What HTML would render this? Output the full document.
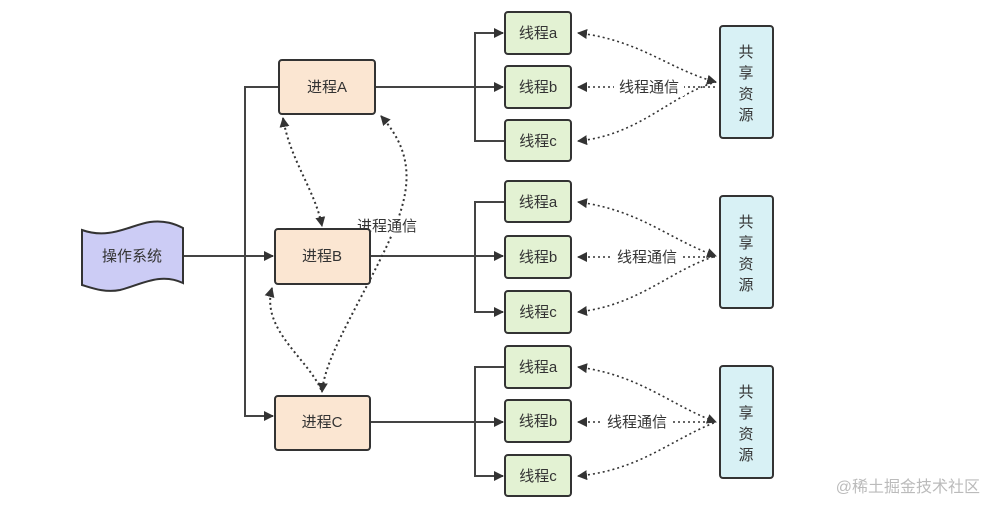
<!DOCTYPE html>
<html><head><meta charset="utf-8"><style>
body{margin:0;background:#fff}
svg text{font-family:"Liberation Sans","Noto Sans CJK SC",sans-serif;font-size:15px;fill:#333}
</style></head><body>
<svg width="986" height="502" viewBox="0 0 986 502" xmlns="http://www.w3.org/2000/svg">
<defs>
<marker id="ar" markerWidth="10" markerHeight="10" refX="9" refY="5" orient="auto" markerUnits="userSpaceOnUse">
<path d="M0,0 L10,5 L0,10 z" fill="#333"/></marker>
<marker id="as" markerWidth="10" markerHeight="10" refX="1" refY="5" orient="auto" markerUnits="userSpaceOnUse">
<path d="M10,0 L0,5 L10,10 z" fill="#333"/></marker>
</defs>
<g stroke="#444" stroke-width="2" fill="none">
<path d="M183 256 H273" marker-end="url(#ar)"/>
<path d="M279 87 H245 V416 H273" marker-end="url(#ar)"/>
<path d="M375 87 H503" marker-end="url(#ar)"/>
<path d="M505 141 H475 V33 H503" marker-end="url(#ar)"/>
<path d="M370 256 H503" marker-end="url(#ar)"/>
<path d="M505 202 H475 V312 H503" marker-end="url(#ar)"/>
<path d="M370 422 H503" marker-end="url(#ar)"/>
<path d="M505 367 H475 V476 H503" marker-end="url(#ar)"/>
</g>
<g stroke="#333" stroke-width="2" fill="none" stroke-dasharray="2,3">
<path d="M283 118 C290 160 315 190 322 226" marker-start="url(#as)" marker-end="url(#ar)"/>
<path d="M381 116 C420 160 410 200 380 260 C350 320 325 360 322 392" marker-start="url(#as)" marker-end="url(#ar)"/>
<path d="M272 288 C260 330 310 360 322 392" marker-start="url(#as)"/>
</g>
<g stroke="#333" stroke-width="1.6" fill="none" stroke-dasharray="2,3">
<path d="M578 33 C640 40 670 70 716 82" marker-start="url(#as)" marker-end="url(#ar)"/>
<path d="M578 87 H716" marker-start="url(#as)"/>
<path d="M578 141 C640 135 670 95 716 82" marker-start="url(#as)"/>
<path d="M578 202 C640 210 670 240 716 256" marker-start="url(#as)" marker-end="url(#ar)"/>
<path d="M578 257 H716" marker-start="url(#as)"/>
<path d="M578 312 C640 305 670 270 716 256" marker-start="url(#as)"/>
<path d="M578 367 C640 375 670 405 716 422" marker-start="url(#as)" marker-end="url(#ar)"/>
<path d="M578 422 H716" marker-start="url(#as)"/>
<path d="M578 476 C640 470 670 440 716 422" marker-start="url(#as)"/>
</g>
<rect x="614" y="78" width="70" height="18" fill="#fff"/>
<text x="649" y="92" text-anchor="middle">线程通信</text>
<rect x="612" y="248" width="70" height="18" fill="#fff"/>
<text x="647" y="262" text-anchor="middle">线程通信</text>
<rect x="602" y="413" width="70" height="18" fill="#fff"/>
<text x="637" y="427" text-anchor="middle">线程通信</text>
<rect x="354" y="217" width="66" height="18" fill="#fff"/>
<text x="387" y="231" text-anchor="middle">进程通信</text>
<path d="M82 230 C110 240 130 225 150 222 C165 220 175 224 183 228 V283 C160 272 140 285 120 290 C105 293 92 288 82 285 Z" fill="#ccccf5" stroke="#333" stroke-width="2"/>
<text x="132" y="261" text-anchor="middle">操作系统</text>
<g fill="#fbe6d2" stroke="#333" stroke-width="2">
<rect x="279" y="60" width="96" height="54" rx="3"/>
<rect x="275" y="229" width="95" height="55" rx="3"/>
<rect x="275" y="396" width="95" height="54" rx="3"/>
</g>
<text x="327" y="92" text-anchor="middle">进程A</text>
<text x="322" y="261" text-anchor="middle">进程B</text>
<text x="322" y="427" text-anchor="middle">进程C</text>
<g fill="#e3f2d3" stroke="#333" stroke-width="2">
<rect x="505" y="12" width="66" height="42" rx="3"/>
<rect x="505" y="66" width="66" height="42" rx="3"/>
<rect x="505" y="120" width="66" height="41" rx="3"/>
<rect x="505" y="181" width="66" height="41" rx="3"/>
<rect x="505" y="236" width="66" height="42" rx="3"/>
<rect x="505" y="291" width="66" height="42" rx="3"/>
<rect x="505" y="346" width="66" height="42" rx="3"/>
<rect x="505" y="400" width="66" height="42" rx="3"/>
<rect x="505" y="455" width="66" height="41" rx="3"/>
</g>
<g text-anchor="middle">
<text x="538" y="38">线程a</text><text x="538" y="92">线程b</text><text x="538" y="146">线程c</text>
<text x="538" y="207">线程a</text><text x="538" y="262">线程b</text><text x="538" y="317">线程c</text>
<text x="538" y="372">线程a</text><text x="538" y="426">线程b</text><text x="538" y="481">线程c</text>
</g>
<g fill="#d8f1f5" stroke="#333" stroke-width="2">
<rect x="720" y="26" width="53" height="112" rx="3"/>
<rect x="720" y="196" width="53" height="112" rx="3"/>
<rect x="720" y="366" width="53" height="112" rx="3"/>
</g>
<g text-anchor="middle">
<text x="746" y="57">共</text><text x="746" y="78">享</text><text x="746" y="99">资</text><text x="746" y="120">源</text>
<text x="746" y="227">共</text><text x="746" y="248">享</text><text x="746" y="269">资</text><text x="746" y="290">源</text>
<text x="746" y="397">共</text><text x="746" y="418">享</text><text x="746" y="439">资</text><text x="746" y="460">源</text>
</g>
<text x="980" y="492" text-anchor="end" style="font-size:16px;fill:#bbb">@稀土掘金技术社区</text>
</svg>
</body></html>
